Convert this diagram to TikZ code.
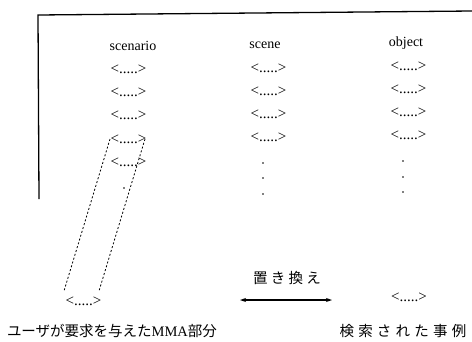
\documentclass[tikz,border=0pt]{standalone}
\usepackage{fontspec}
\setmainfont{Liberation Serif}
\newfontfamily\jp{Noto Sans CJK JP}
\usetikzlibrary{arrows.meta}
\tikzset{
  hdr/.style={inner sep=0pt, font=\fontsize{14}{14}\selectfont},
  elem/.style={inner sep=0pt, font=\fontsize{15}{15}\selectfont},
  jlabel/.style={inner sep=0pt, font=\jp\fontsize{14.5}{14.5}\selectfont},
  frameline/.style={line width=1.3pt},
  link/.style={line width=0.8pt, dash pattern=on 2pt off 2pt},
  dotmark/.style={fill=black},
}
\begin{document}
\begin{tikzpicture}[x=1pt,y=-1pt]
\useasboundingbox (0,0) rectangle (472,341);
% frame
\coordinate (fl) at (39,199);
\coordinate (ftl) at (38,15);
\coordinate (ftr) at (472,11);
\draw[frameline] (fl) -- (ftl) -- (ftr);
% headers
\node[hdr] (h1) at (133,46) {scenario};
\node[hdr] (h2) at (265,45) {scene};
\node[hdr] (h3) at (406,43) {object};
% column 1
\node[elem] (r11) at (128.5,69) {<.....>};
\node[elem] (r12) at (128.5,92) {<.....>};
\node[elem] (r13) at (128.5,115) {<.....>};
\node[elem] (r14) at (128.5,139) {<.....>};
\node[elem] (r15) at (128.5,162) {<.....>};
\fill[dotmark] (124,188) circle (0.9);
% column 2
\node[elem] (r21) at (268.5,68) {<.....>};
\node[elem] (r22) at (268.5,91) {<.....>};
\node[elem] (r23) at (268.5,114) {<.....>};
\node[elem] (r24) at (268.5,137) {<.....>};
\fill[dotmark] (263,163) circle (0.9);
\fill[dotmark] (263,178) circle (0.9);
\fill[dotmark] (263,194) circle (0.9);
% column 3
\node[elem] (r31) at (408.5,66) {<.....>};
\node[elem] (r32) at (408.5,89) {<.....>};
\node[elem] (r33) at (408.5,112) {<.....>};
\node[elem] (r34) at (408.5,135) {<.....>};
\fill[dotmark] (403,161) circle (0.9);
\fill[dotmark] (403,177) circle (0.9);
\fill[dotmark] (403,192) circle (0.9);
% bottom elements
\node[elem] (b1) at (83.5,301) {<.....>};
\node[elem] (b3) at (409,297) {<.....>};
% dashed link
\coordinate (dtl) at (110,139);
\coordinate (dtr) at (145,139);
\coordinate (dbl) at (64,291);
\coordinate (dbr) at (99,291);
\draw[link] (dtl) -- (dbl);
\draw[link] (dtr) -- (dbr);
% replacement arrow
\coordinate (a1) at (240,300);
\coordinate (a2) at (332,300);
\draw[{Stealth[length=6pt,width=4pt]}-{Stealth[length=6pt,width=4pt]}, line width=1.2pt] (a1) -- (a2);
\node[jlabel] (t1) at (287,278) {\makebox[68pt][s]{置\hfil き\hfil 換\hfil え}};
% labels
\node[jlabel] (l1) at (116,331) {\makebox[218pt][s]{ユーザが要求を与えた{\rmfamily MMA}部分}};
\node[jlabel] (l2) at (403,331) {\makebox[127pt][s]{検\hfil 索\hfil さ\hfil れ\hfil た\hfil 事\hfil 例}};
\end{tikzpicture}
\end{document}
